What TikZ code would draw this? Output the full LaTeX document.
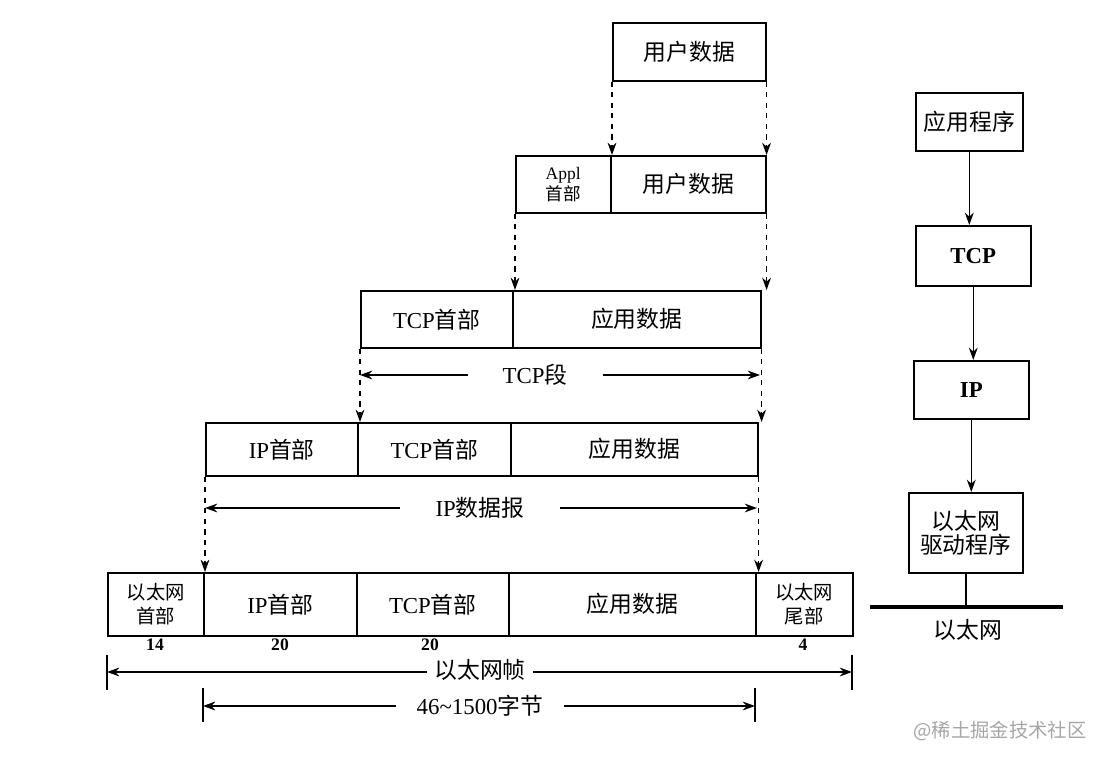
\documentclass[tikz,border=0pt]{standalone}
\usepackage{fontspec}
\setmainfont{Liberation Serif}
\newfontfamily\cjk{Noto Sans CJK SC}
\usetikzlibrary{arrows.meta}
\begin{document}
\begin{tikzpicture}[x=0.02cm,y=-0.02cm,
  bx/.style={draw,line width=0.9pt,minimum height=#1*0.02cm,inner sep=0pt,align=center,font=\fontsize{13}{14}\selectfont\cjk},
  dar/.style={draw,dashed,line width=0.8pt,-{Stealth[length=7pt,width=5pt]}},
  sar/.style={draw,line width=0.8pt,{Stealth[length=7pt,width=5pt]}-{Stealth[length=7pt,width=5pt]}},
  ar/.style={draw,line width=0.8pt,-{Stealth[length=7pt,width=5pt]}},
  lbl/.style={font=\fontsize{13}{14}\selectfont\cjk,fill=white,inner sep=2pt},
  num/.style={font=\bfseries\fontsize{10}{11}\selectfont}]
\useasboundingbox (0,0) rectangle (1099,763);
\newcommand\bxx[6]{\node[bx=#5,minimum width=(#3-#2)*0.02cm,anchor=north west] (#1) at (#2,#4) {#6};}
% row 1
\bxx{u1}{612}{765}{22}{58}{用户数据}
% row 2
\bxx{a2}{515}{610}{155}{57}{\fontsize{10}{11}\selectfont\rmfamily Appl\\[-2pt]\fontsize{10}{11}\selectfont 首部}
\bxx{u2}{610}{765}{155}{57}{用户数据}
% row 3
\bxx{t3}{360}{512}{290}{57}{\rmfamily TCP\cjk 首部}
\bxx{d3}{512}{760}{290}{57}{应用数据}
% row 4
\bxx{i4}{205}{357}{422}{53}{\rmfamily IP\cjk 首部}
\bxx{t4}{357}{510}{422}{53}{\rmfamily TCP\cjk 首部}
\bxx{d4}{510}{757}{422}{53}{应用数据}
% row 5
\bxx{e5}{107}{203}{572}{63}{\fontsize{11}{12}\selectfont 以太网\\\fontsize{11}{12}\selectfont 首部}
\bxx{i5}{203}{356}{572}{63}{\rmfamily IP\cjk 首部}
\bxx{t5}{356}{508}{572}{63}{\rmfamily TCP\cjk 首部}
\bxx{d5}{508}{755}{572}{63}{应用数据}
\bxx{f5}{755}{852}{572}{63}{\fontsize{11}{12}\selectfont 以太网\\\fontsize{11}{12}\selectfont 尾部}
% numbers
\node[num] (n1) at (155,645) {14};
\node[num] (n2) at (280,645) {20};
\node[num] (n3) at (430,645) {20};
\node[num] (n4) at (803,645) {4};
% dashed arrows (vertical)
\draw[dar] (u1.south west) -- (u1.south west|-u2.north);
\draw[dar] (u1.south east) -- (u1.south east|-u2.north);
\draw[dar] (a2.south west) -- (a2.south west|-t3.north);
\draw[dar] (u2.south east) -- (u2.south east|-d3.north);
\draw[dar] (t3.south west) -- (t3.south west|-i4.north);
\draw[dar] (d3.south east) -- (d3.south east|-d4.north);
\draw[dar] (i4.south west) -- (i4.south west|-e5.north);
\draw[dar] (d4.south east) -- (d4.south east|-d5.north);
% span arrows
\coordinate (s1a) at (360,375); \coordinate (s1b) at (760,375);
\draw[sar] (s1a) -- (s1b);
\node[lbl,inner xsep=20pt] (l1) at (535,375) {\rmfamily TCP\cjk 段};
\coordinate (s2a) at (205,508); \coordinate (s2b) at (757,508);
\draw[sar] (s2a) -- (s2b);
\node[lbl,inner xsep=20pt] (l2) at (480,508) {\rmfamily IP\cjk 数据报};
\coordinate (s3a) at (107,672); \coordinate (s3b) at (852,672);
\draw[line width=0.8pt] (107,655) -- (107,690) (852,655) -- (852,690);
\draw[sar] (s3a) -- (s3b);
\node[lbl,inner xsep=4pt] (l3) at (480,670) {以太网帧};
\coordinate (s4a) at (203,706); \coordinate (s4b) at (755,706);
\draw[line width=0.8pt] (203,688) -- (203,722) (755,688) -- (755,722);
\draw[sar] (s4a) -- (s4b);
\node[lbl,inner xsep=12pt] (l4) at (480,706) {\rmfamily 46\textasciitilde1500\cjk 字节};
% right stack
\bxx{r1}{915}{1022}{92}{58}{应用程序}
\bxx{r2}{915}{1030}{225}{60}{\rmfamily\bfseries TCP}
\bxx{r3}{913}{1028}{360}{58}{\rmfamily\bfseries IP}
\bxx{r4}{908}{1022}{492}{80}{以太网\\驱动程序}
\draw[ar] (r1) -- (r1|-r2.north);
\draw[ar] (r2) -- (r2|-r3.north);
\draw[ar] (r3) -- (r3|-r4.north);
\coordinate (bus) at (r4.south|-0,607);
\draw[line width=0.8pt] (r4.south) -- (bus);
\draw[line width=2pt] (870,607) -- (1063,607);
\node[font=\fontsize{13}{14}\selectfont\cjk] (eth) at (968,630) {以太网};
\node[font=\fontsize{11}{12}\selectfont\cjk,text=gray!70] (wm) at (1000,731) {@稀土掘金技术社区};
\end{tikzpicture}
\end{document}
